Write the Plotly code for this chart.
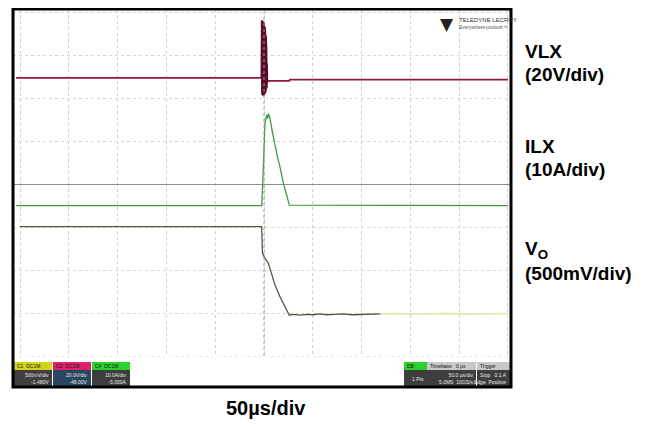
import plotly.graph_objects as go

# ---------------- data (time in µs relative to trigger, amplitude in screen divisions) ----
vlx_t = [-254, -120, -2.3, -2.0, -1.7, -1.4, -1.1, -0.8, -0.5, -0.2, 0.1, 0.4, 0.7, 1.0,
         1.3, 1.6, 1.9, 2.2, 2.5, 2.8, 3.1, 3.5, 26.0, 26.6, 120, 250]
vlx_v = [2.47, 2.47, 2.47, 3.80, 2.08, 3.78, 2.06, 3.75, 2.07, 3.72, 2.09, 3.66, 2.11, 3.58,
         2.13, 3.45, 2.18, 3.20, 2.24, 2.80, 2.36, 2.40, 2.40, 2.43, 2.43, 2.43]
VLX_RING = (-2.3, 3.5)  # switching-ring interval drawn darker

ilx_t = [-254, -2.3, -1.3, 0.0, 1.0, 2.8, 3.6, 4.4, 5.2, 6.1, 8.5, 11.3, 14.0, 16.4,
         19.8, 23.3, 25.9, 250]
ilx_v = [-0.50, -0.50, 0.02, 0.79, 1.42, 1.60, 1.52, 1.64, 1.58, 1.53, 1.22, 0.87, 0.60, 0.40,
         0.02, -0.26, -0.49, -0.50]

vo_t = [-250, -2.4, -1.5, 1.0, 4.4, 7.9, 11.3, 16.4, 21.5, 25.9, 30.0, 36.9, 43.7, 50,
        57, 64, 72, 80, 90, 100, 110, 119, 135, 150, 170, 190, 210, 230, 250]
vo_v = [-0.99, -0.99, -1.61, -1.73, -1.84, -2.08, -2.35, -2.62, -2.85, -3.05, -3.03, -3.05, -3.03, -3.04,
        -3.02, -3.04, -3.03, -3.02, -3.04, -3.03, -3.02, -3.02, -3.01, -3.02, -3.01, -3.01, -3.02, -3.01, -3.01]
VO_FADE_T = 119  # trace colour fades from dark to pale yellow here

labels = ["<b>VLX</b>", "<b>(20V/div)</b>", "<b>ILX</b>", "<b>(10A/div)</b>",
          "<b>V<sub>O</sub></b>", "<b>(500mV/div)</b>"]
time_label = "<b>50µs/div</b>"

# ---------------- layout geometry ----------------
# The page body adds an 8 px margin, so the figure is drawn 8 px in from the window edge.
OFF = 8
W, H = 647 - OFF, 424 - OFF
L, R, T, B = 13, 511, 9, 387           # plot area in window pixels
X_RANGE = [-257.2, 253.1]
Y_RANGE = [-4.72, 4.07]


def px(x):
    return (x - L) / (R - L)


def py(y):
    return (B - y) / (B - T)


fig = go.Figure()

vo_dark_t = [t for t in vo_t if t <= VO_FADE_T]
vo_dark_v = [v for t, v in zip(vo_t, vo_v) if t <= VO_FADE_T]
vo_lite_t = [t for t in vo_t if t >= VO_FADE_T]
vo_lite_v = [v for t, v in zip(vo_t, vo_v) if t >= VO_FADE_T]
ring_t = [t for t in vlx_t if VLX_RING[0] <= t <= VLX_RING[1]]
ring_v = [v for t, v in zip(vlx_t, vlx_v) if VLX_RING[0] <= t <= VLX_RING[1]]

fig.add_trace(go.Scatter(x=vo_lite_t, y=vo_lite_v, mode="lines",
                         line=dict(color="#e2e2a2", width=1.5), hoverinfo="skip"))
fig.add_trace(go.Scatter(x=vo_dark_t, y=vo_dark_v, mode="lines",
                         line=dict(color="#55553e", width=1.3), hoverinfo="skip"))
fig.add_trace(go.Scatter(x=ilx_t, y=ilx_v, mode="lines",
                         line=dict(color="#3f9a3f", width=1.3), hoverinfo="skip"))
fig.add_trace(go.Scatter(x=vlx_t, y=vlx_v, mode="lines",
                         line=dict(color="#8e1a44", width=1.8), hoverinfo="skip"))
fig.add_trace(go.Scatter(x=ring_t, y=ring_v, mode="lines",
                         line=dict(color="#5a0c2c", width=2.4), hoverinfo="skip"))

shapes = []
# centre vertical graticule line (dotted, darker)
shapes.append(dict(type="line", xref="x", yref="y", x0=0, x1=0, y0=-4, y1=4,
                   line=dict(color="#9a9a9a", width=1, dash="dot")))
# white strip under status bar
shapes.append(dict(type="rect", xref="paper", yref="paper", x0=0, x1=1, y0=0, y1=py(356.5),
                   fillcolor="white", line=dict(width=0)))

annotations = []

# status bar boxes: (x0, x1, header colour, header text, body colour, body lines)
status = [
    (14, 52, "#d6d21a", "C1  DC1M", "#3e3e3e", "500mV/div<br>-1.480V"),
    (53, 91, "#e0226a", "C2  DC1M", "#2b4660", "20.0V/div<br>-48.00V"),
    (92, 130, "#2cd22c", "C4  DC1M", "#3e3e3e", "10.0A/div<br>-5.000A"),
    (404, 427, "#2cd22c", "DB", "#3e3e3e", "1 Pts"),
    (427, 476, "#c8c8c8", "Timebase   0 µs", "#3e3e3e", "50.0 µs/div<br>5.0MS  10GS/s"),
    (477, 510, "#c8c8c8", "Trigger", "#3e3e3e", "Stop   0.1 A<br>Edge  Positive"),
]
for x0, x1, hc, ht, bc, bt in status:
    shapes.append(dict(type="rect", xref="paper", yref="paper", x0=px(x0), x1=px(x1),
                       y0=py(370), y1=py(362), fillcolor=hc, line=dict(width=0)))
    shapes.append(dict(type="rect", xref="paper", yref="paper", x0=px(x0), x1=px(x1),
                       y0=py(387), y1=py(370), fillcolor=bc, line=dict(width=0)))
    annotations.append(dict(xref="paper", yref="paper", x=px(x0 + 1), y=py(366), text=ht,
                            showarrow=False, xanchor="left", yanchor="middle",
                            font=dict(size=5, color="#111", family="Liberation Sans")))
    annotations.append(dict(xref="paper", yref="paper", x=px(x1 - 1), y=py(378.5), text=bt,
                            showarrow=False, xanchor="right", yanchor="middle", align="right",
                            font=dict(size=5, color="#e8e8e8", family="Liberation Sans")))

# outer frame
shapes.append(dict(type="rect", xref="paper", yref="paper", x0=0, x1=1, y0=0, y1=1,
                   line=dict(color="black", width=3)))

# logo
annotations.append(dict(xref="paper", yref="paper", x=px(447), y=py(24), text="▼",
                        showarrow=False, xanchor="center", yanchor="middle",
                        font=dict(size=17, color="#222", family="DejaVu Sans")))
annotations.append(dict(xref="paper", yref="paper", x=px(457), y=py(20), text="TELEDYNE LECROY",
                        showarrow=False, xanchor="left", yanchor="middle",
                        font=dict(size=6, color="#333", family="Liberation Sans")))
annotations.append(dict(xref="paper", yref="paper", x=px(457), y=py(27), text="Everywhereyoulook™",
                        showarrow=False, xanchor="left", yanchor="middle",
                        font=dict(size=5, color="#555", family="Liberation Sans")))

# right-side labels
label_y = [51, 74, 146, 169, 250, 273]
for txt, yy in zip(labels, label_y):
    annotations.append(dict(xref="paper", yref="paper", x=px(523), y=py(yy), text=txt,
                            showarrow=False, xanchor="left", yanchor="middle",
                            font=dict(size=19, color="black", family="Liberation Sans")))
annotations.append(dict(xref="paper", yref="paper", x=px(266), y=py(408), text=time_label,
                        showarrow=False, xanchor="center", yanchor="middle",
                        font=dict(size=20, color="black", family="Liberation Sans")))

fig.update_layout(
    width=W, height=H,
    margin=dict(l=L - OFF, r=W - (R - OFF), t=T - OFF, b=H - (B - OFF), pad=0),
    paper_bgcolor="white", plot_bgcolor="white",
    showlegend=False,
    shapes=shapes, annotations=annotations,
    xaxis=dict(range=X_RANGE, tick0=0, dtick=50, showgrid=True, gridcolor="#cfcfcf",
               griddash="dot", gridwidth=1, zeroline=False, showticklabels=False,
               showline=False, ticks=""),
    yaxis=dict(range=Y_RANGE, tick0=0, dtick=1, showgrid=True, gridcolor="#d6d6d6",
               griddash="dot", gridwidth=1, zeroline=True, zerolinecolor="#8c8c8c",
               zerolinewidth=1, showticklabels=False, showline=False, ticks=""),
)

fig.write_html("out.html")
